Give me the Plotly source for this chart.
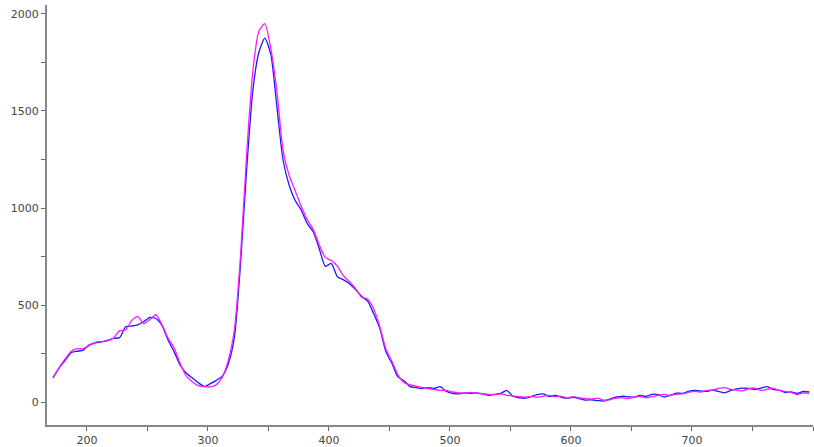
import plotly.graph_objects as go

wavelength = list(range(172, 798, 5))

blue = [125, 175, 215, 255, 262, 268, 295, 305, 310, 318, 328, 332, 388, 392, 398, 415,
        436, 431, 395, 320, 260, 190, 150, 125, 100, 80, 95, 112, 135, 200, 340, 720,
        1200, 1600, 1800, 1875, 1790, 1520, 1250, 1120, 1040, 990, 920, 878, 790, 700,
        714, 645, 630, 610, 580, 545, 520, 455, 380, 260, 200, 130, 110, 80, 75, 70,
        75, 70, 80, 55, 45, 42, 48, 45, 48, 42, 35, 40, 45, 60, 30, 22, 20, 28, 38, 42,
        30, 35, 25, 20, 25, 18, 10, 12, 8, 5, 15, 25, 30, 28, 25, 35, 30, 40, 38, 26,
        35, 46, 45, 55, 60, 58, 55, 62, 55, 48, 60, 68, 72, 70, 65, 72, 80, 65, 62, 50,
        52, 45, 55, 52]

magenta = [128, 178, 222, 262, 275, 275, 292, 308, 312, 315, 330, 368, 372, 420, 440, 405,
           425, 450, 400, 330, 280, 200, 135, 105, 85, 80, 78, 90, 130, 220, 380, 760,
           1280, 1700, 1910, 1950, 1820, 1600, 1300, 1170, 1090, 1010, 940, 890, 810, 745,
           730, 700, 650, 620, 585, 540, 530, 480, 390, 275, 210, 140, 100, 90, 82, 75,
           70, 65, 60, 60, 52, 48, 45, 50, 45, 42, 40, 38, 42, 35, 32, 28, 25, 30, 25, 30,
           35, 28, 30, 22, 28, 22, 18, 15, 20, 10, 12, 20, 22, 18, 25, 30, 22, 28, 35, 40,
           35, 40, 42, 50, 55, 52, 60, 62, 70, 75, 65, 62, 58, 70, 72, 60, 65, 72, 60, 55,
           50, 38, 48, 45]

fig = go.Figure()
fig.add_trace(go.Scatter(x=wavelength, y=blue, mode="lines",
                         line=dict(color="#1a1aff", width=1.3, shape="spline", smoothing=0.6),
                         showlegend=False))
fig.add_trace(go.Scatter(x=wavelength, y=magenta, mode="lines",
                         line=dict(color="#ff1aff", width=1.3, shape="spline", smoothing=0.6),
                         showlegend=False))

axis_common = dict(showgrid=False, zeroline=False, showline=True, linecolor="#888888",
                   linewidth=2, ticks="outside", ticklen=4, tickcolor="#666666",
                   tickwidth=1, tickfont=dict(family="DejaVu Sans", size=11, color="#444444"))

fig.update_xaxes(range=[167, 800], dtick=100, tick0=0,
                 minor=dict(dtick=50, ticks="outside", ticklen=4, tickcolor="#666666"),
                 **axis_common)
fig.update_yaxes(range=[-118, 2046], dtick=500, tick0=0,
                 minor=dict(dtick=250, ticks="outside", ticklen=4, tickcolor="#666666"),
                 **axis_common)

fig.update_layout(width=814, height=447, margin=dict(l=47, r=1, t=5, b=22),
                  plot_bgcolor="white", paper_bgcolor="white")

fig.write_html("out.html", config={"displayModeBar": False},
               post_script="document.body.style.margin='0px';document.body.style.overflow='hidden';")
